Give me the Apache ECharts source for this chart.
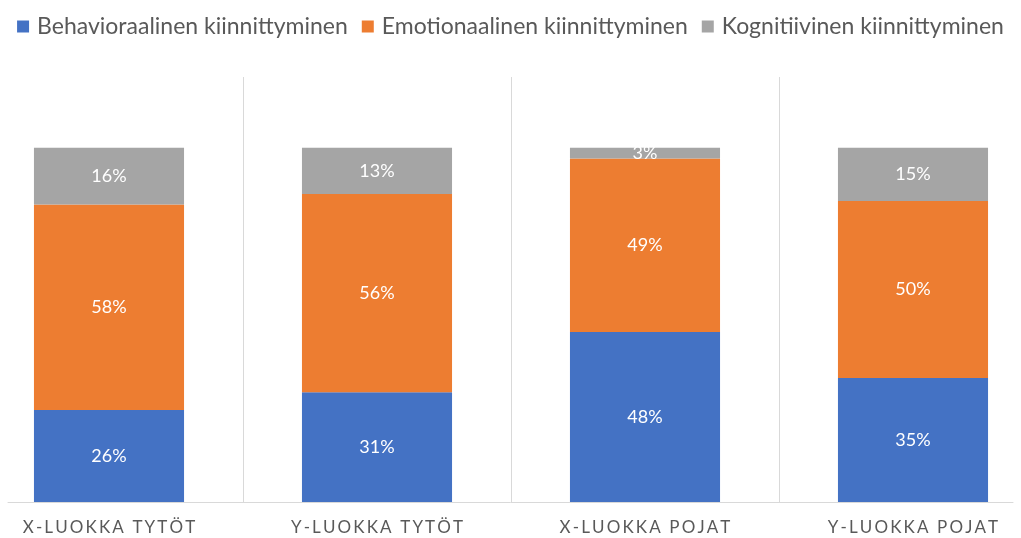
<!DOCTYPE html>
<html>
<head>
<meta charset="utf-8">
<script src="https://cdn.jsdelivr.net/npm/echarts@6/dist/echarts.min.js"></script>
<style>
  html, body { margin: 0; padding: 0; background: #fff; }
  #chart { width: 1021px; height: 538px; }
</style>
</head>
<body>
<div id="chart"></div>
<script>
// data
const categories = ['X-LUOKKA TYTÖT', 'Y-LUOKKA TYTÖT', 'X-LUOKKA POJAT', 'Y-LUOKKA POJAT'];
const behavioraalinen = [26, 31, 48, 35];
const emotionaalinen = [58, 56, 49, 50];
const kognitiivinen = [16, 13, 3, 15];

const font = 'Lato, "Noto Sans", sans-serif';
const myChart = echarts.init(document.getElementById('chart'));

function seg(name, data, color) {
  return {
    name: name,
    type: 'bar',
    stack: 'total',
    data: data,
    barWidth: '56%',
    itemStyle: { color: color },
    label: {
      show: true,
      position: 'inside',
      formatter: '{c}%',
      color: '#fff',
      fontSize: 18,
      fontFamily: font
    },
    xAxisIndex: 0,
    yAxisIndex: 0
  };
}

let option = {
  animation: false,
  color: ['#4472C4', '#ED7D31', '#A5A5A5'],
  legend: {
    top: 10,
    left: 'center',
    itemWidth: 12,
    itemHeight: 12,
    itemGap: 14,
    icon: 'rect',
    textStyle: { color: '#595959', fontSize: 23, fontFamily: font, padding: [0, 0, 0, 3] },
    data: ['Behavioraalinen kiinnittyminen', 'Emotionaalinen kiinnittyminen', 'Kognitiivinen kiinnittyminen']
  },
  grid: [
    { left: -25, right: -26, top: 77, bottom: 36, outerBoundsMode: 'none' },
    // only used for the visible stretch of the baseline
    { left: 8, right: 8, top: 77, bottom: 36 }
  ],
  xAxis: [
    {
      type: 'category',
      gridIndex: 0,
      data: categories,
      axisLine: { show: false },
      axisTick: { show: false },
      splitLine: { show: true, lineStyle: { color: '#d9d9d9', width: 1 } },
      axisLabel: {
        color: '#595959',
        fontSize: 17,
        fontFamily: font,
        margin: 17,
        formatter: v => v.split('').join('\u2009')
      }
    },
    {
      type: 'category',
      gridIndex: 1,
      data: categories,
      axisLine: { show: true, lineStyle: { color: '#d9d9d9', width: 1 } },
      axisTick: { show: false },
      axisLabel: { show: false },
      splitLine: { show: false }
    }
  ],
  yAxis: [
    { type: 'value', gridIndex: 0, min: 0, max: 120, show: false, splitLine: { show: false } },
    { type: 'value', gridIndex: 1, min: 0, max: 120, show: false, splitLine: { show: false } }
  ],
  series: [
    seg('Behavioraalinen kiinnittyminen', behavioraalinen, '#4472C4'),
    seg('Emotionaalinen kiinnittyminen', emotionaalinen, '#ED7D31'),
    seg('Kognitiivinen kiinnittyminen', kognitiivinen, '#A5A5A5')
  ]
};
myChart.setOption(option);
</script>
</body>
</html>
